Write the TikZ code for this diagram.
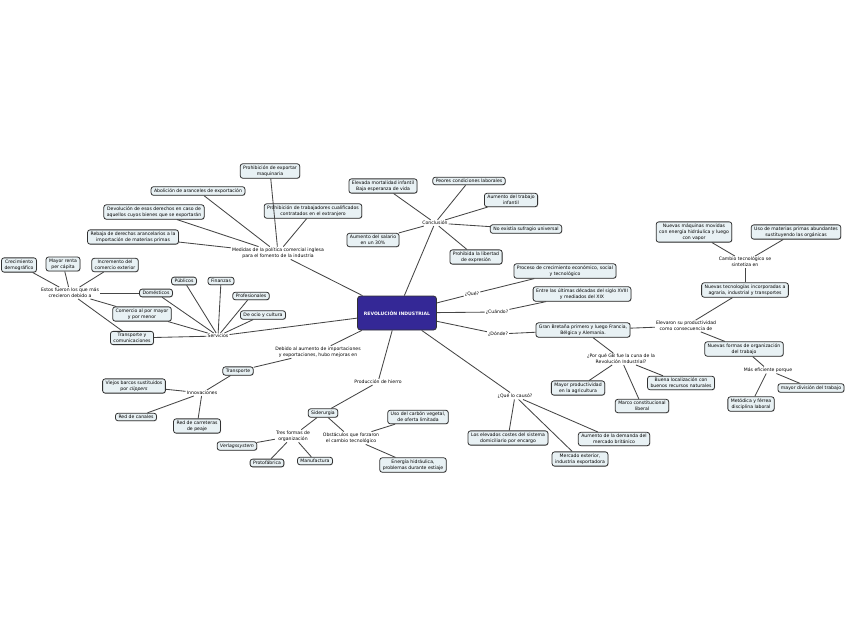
\documentclass[tikz,border=0pt]{standalone}
\usepackage{fontspec}
\setmainfont{DejaVu Sans}
\usetikzlibrary{shadows}
\definecolor{boxfill}{RGB}{232,241,244}
\definecolor{boxline}{RGB}{50,50,50}
\definecolor{linkgray}{RGB}{70,70,70}
\definecolor{rootblue}{RGB}{52,40,150}

\tikzset{
  topic/.style={draw=boxline, line width=0.8pt, fill=boxfill, rounded corners=2.5pt,
    align=center, inner xsep=3pt, inner ysep=2pt, font=\fontsize{4.6}{5.8}\selectfont,
    drop shadow={shadow xshift=0.6pt, shadow yshift=-0.6pt, fill=black!35}},
  phrase/.style={align=center, inner sep=1pt, font=\fontsize{4.6}{5.8}\selectfont},
  root/.style={draw=boxline, line width=0.8pt, fill=rootblue, rounded corners=3pt,
    minimum width=79pt, minimum height=34pt, text=white,
    font=\fontsize{4.6}{5.8}\selectfont\bfseries},
  link/.style={draw=linkgray, line width=0.85pt}
}

\begin{document}
\begin{tikzpicture}[x=1pt, y=-1pt]
  \useasboundingbox (0,0) rectangle (848,638);

  % Central topic
  \node[root] (rev) at (397,313) {REVOLUCIÓN INDUSTRIAL};

  % Trade policy
  \node[phrase] (medidas) at (278,253) {Medidas de la política comercial inglesa\\para el fomento de la industria};
  \node[topic] (prohmaq) at (270,171) {Prohibición de exportar\\maquinaria};
  \node[topic] (abolicion) at (198,191) {Abolición de aranceles de exportación};
  \node[topic] (prohtrab) at (313,211) {Prohibición de trabajadores cualificados\\contratados en el extranjero};
  \node[topic] (devolucion) at (154,212) {Devolución de esos derechos en caso de\\aquellos cuyos bienes que se exportarán};
  \node[topic] (rebaja) at (133,237) {Rebaja de derechos arancelarios a la\\importación de materias primas};

  % Conclusion
  \node[phrase] (conclusion) at (435,223) {Conclusión};
  \node[topic] (mortalidad) at (383,186) {Elevada mortalidad infantil\\Baja esperanza de vida};
  \node[topic] (peores) at (469,181) {Peores condiciones laborales};
  \node[topic] (trabinf) at (511,200) {Aumento del trabajo\\infantil};
  \node[topic] (sufragio) at (526,229) {No existía sufragio universal};
  \node[topic] (salario) at (373,240) {Aumento del salario\\en un 30\%};
  \node[topic] (libertad) at (476,257) {Prohibida la libertad\\de expresión};

  % Questions
  \node[phrase] (que) at (472,294) {¿Qué?};
  \node[topic] (proceso) at (565,271) {Proceso de crecimiento económico, social\\y tecnológico};
  \node[phrase] (cuando) at (497,312) {¿Cuándo?};
  \node[topic] (decadas) at (582,294) {Entre las últimas décadas del siglo XVIII\\y mediados del XIX};
  \node[phrase] (donde) at (498,334) {¿Dónde?};
  \node[topic] (gb) at (583,330) {Gran Bretaña primero y luego Francia,\\Bélgica y Alemania.};

  % Productivity
  \node[phrase] (elevaron) at (686,326) {Elevaron su productividad\\como consecuencia de};
  \node[topic] (nuevastec) at (745,290) {Nuevas tecnologías incorporadas a\\agraria, industrial y transportes};
  \node[phrase] (cambio) at (745,262) {Cambio tecnológico se\\sintetiza en};
  \node[topic] (maquinas) at (694,232) {Nuevas máquinas movidas\\con energía hidráulica y luego\\con vapor};
  \node[topic] (materias) at (796,232) {Uso de materias primas abundantes\\sustituyendo las orgánicas};
  \node[topic] (formas) at (744,349) {Nuevas formas de organización\\del trabajo};
  \node[phrase] (eficiente) at (768,370) {Más eficiente porque};
  \node[topic] (division) at (811,388) {mayor división del trabajo};
  \node[topic] (metodica) at (751,404) {Metódica y férrea\\disciplina laboral};

  % Why Great Britain
  \node[phrase] (porque) at (621,359) {¿Por qué GB fue la cuna de la\\Revolución Industrial?};
  \node[topic] (agricultura) at (578,388) {Mayor productividad\\en la agricultura};
  \node[topic] (localizacion) at (681,383) {Buena localización con\\buenos recursos naturales};
  \node[topic] (marco) at (642,406) {Marco constitucional\\liberal};

  % Causes
  \node[phrase] (causo) at (515,396) {¿Qué lo causó?};
  \node[topic] (costes) at (508,438) {Los elevados costes del sistema\\domiciliario por encargo};
  \node[topic] (mercado) at (580,459) {Mercado exterior,\\industria exportadora};
  \node[topic] (demanda) at (614,439) {Aumento de la demanda del\\mercado británico};

  % Iron
  \node[phrase] (hierro) at (378,382) {Producción de hierro};
  \node[topic] (siderurgia) at (323,413) {Siderurgia};
  \node[phrase] (tresformas) at (293,436) {Tres formas de\\organización};
  \node[topic] (verlag) at (237,446) {\textit{Verlagssystem}};
  \node[topic] (protofabrica) at (267,463) {Protofábrica};
  \node[topic] (manufactura) at (315,461) {Manufactura};
  \node[phrase] (obstaculos) at (351,438) {Obstáculos que forzaron\\el cambio tecnológico};
  \node[topic] (carbon) at (418,417) {Uso del carbón vegetal,\\de oferta limitada};
  \node[topic] (energia) at (413,465) {Energía hidráulica,\\problemas durante estiaje};

  % Transport
  \node[phrase] (debido) at (318,352) {Debido al aumento de importaciones\\y exportaciones, hubo mejoras en};
  \node[topic] (transporte) at (238,371) {Transporte};
  \node[phrase] (innovaciones) at (202,393) {Innovaciones};
  \node[topic] (barcos) at (134,386) {Viejos barcos sustituidos\\por \textit{clippers}};
  \node[topic] (canales) at (136,417) {Red de canales};
  \node[topic] (carreteras) at (197,426) {Red de carreteras\\de peaje};

  % Services
  \node[phrase] (servicios) at (218,336) {Servicios};
  \node[topic] (publicos) at (184,281) {Públicos};
  \node[topic] (finanzas) at (221,281) {Finanzas};
  \node[topic] (profesionales) at (251,296) {Profesionales};
  \node[topic] (ocio) at (263,315) {De ocio y cultura};
  \node[topic] (domesticos) at (156,293) {Domésticos};
  \node[topic] (comercio) at (142,314) {Comercio al por mayor\\y por menor};
  \node[topic] (transcom) at (132,338) {Transporte y\\comunicaciones};
  \node[phrase] (estos) at (70,293) {Estos fueron los que más\\crecieron debido a};
  \node[topic] (demografico) at (19,265) {Crecimiento\\demográfico};
  \node[topic] (renta) at (63,264) {Mayor renta\\per cápita};
  \node[topic] (exterior) at (115,265) {Incremento del\\comercio exterior};

  % Connectors
  \draw[link] (rev) -- (medidas);
  \foreach \t in {prohmaq, abolicion, prohtrab, devolucion, rebaja}
    \draw[link] (medidas) -- (\t);
  \draw[link] (rev) -- (conclusion);
  \foreach \t in {mortalidad, peores, trabinf, sufragio, salario, libertad}
    \draw[link] (conclusion) -- (\t);
  \draw[link] (rev) -- (que) -- (proceso);
  \draw[link] (rev) -- (cuando) -- (decadas);
  \draw[link] (rev) -- (donde) -- (gb);
  \draw[link] (gb) -- (elevaron);
  \draw[link] (elevaron) -- (nuevastec);
  \draw[link] (nuevastec) -- (cambio);
  \draw[link] (cambio) -- (maquinas);
  \draw[link] (cambio) -- (materias);
  \draw[link] (elevaron) -- (formas);
  \draw[link] (formas) -- (eficiente);
  \draw[link] (eficiente) -- (division);
  \draw[link] (eficiente) -- (metodica);
  \draw[link] (gb) -- (porque);
  \foreach \t in {agricultura, localizacion, marco}
    \draw[link] (porque) -- (\t);
  \draw[link] (rev) -- (causo);
  \foreach \t in {costes, mercado, demanda}
    \draw[link] (causo) -- (\t);
  \draw[link] (rev) -- (hierro) -- (siderurgia);
  \draw[link] (siderurgia) -- (tresformas);
  \foreach \t in {verlag, protofabrica, manufactura}
    \draw[link] (tresformas) -- (\t);
  \draw[link] (siderurgia) -- (obstaculos);
  \foreach \t in {carbon, energia}
    \draw[link] (obstaculos) -- (\t);
  \draw[link] (rev) -- (debido) -- (transporte) -- (innovaciones);
  \foreach \t in {barcos, canales, carreteras}
    \draw[link] (innovaciones) -- (\t);
  \draw[link] (rev) -- (servicios);
  \foreach \t in {publicos, finanzas, profesionales, ocio, domesticos, comercio, transcom}
    \draw[link] (servicios) -- (\t);
  \foreach \t in {domesticos, comercio, transcom, demografico, renta, exterior}
    \draw[link] (estos) -- (\t);
\end{tikzpicture}
\end{document}
